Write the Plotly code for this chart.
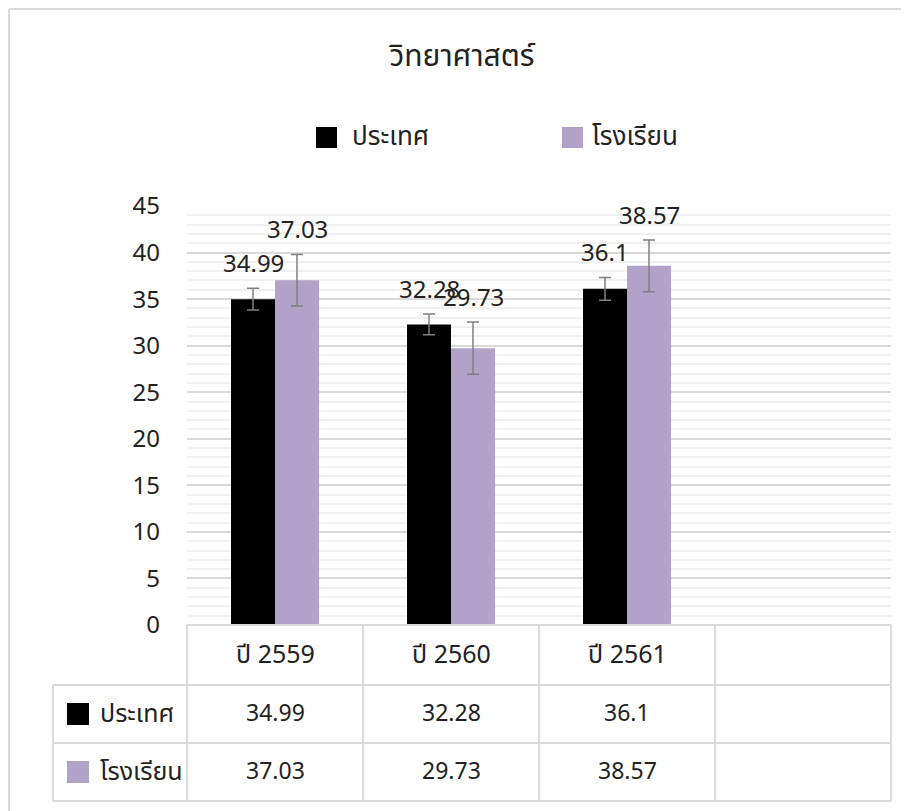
import plotly.graph_objects as go

categories = ["ปี 2559", "ปี 2560", "ปี 2561"]
series_names = ["ประเทศ", "โรงเรียน"]
country_values = [34.99, 32.28, 36.1]
school_values = [37.03, 29.73, 38.57]
country_err = [1.17, 1.11, 1.23]
school_err = [2.77, 2.81, 2.79]
title_text = "วิทยาศาสตร์"

colors = ["#000000", "#b2a2c7"]
FONT = "Noto Sans Thai, Noto Sans, DejaVu Sans, sans-serif"
GRID = "#d9d9d9"
TXT = "#222222"

# page has an 8px body margin: figure is drawn 8px smaller so that it lines up
PAGE_OFF = 8
W, H = 909 - PAGE_OFF, 811 - PAGE_OFF
PL, PR, PT, PB = 187, 891, 206, 625  # plot area in screen px
PW, PH = PR - PL, PB - PT

def pxx(x):
    return (x - PL) / PW

def pyy(y):
    return (PB - y) / PH

xs = list(range(len(categories)))
bargap = 0.5
bar_w = (1 - bargap) / 2

fig = go.Figure()
for name, vals, errs, col in [
    (series_names[0], country_values, country_err, colors[0]),
    (series_names[1], school_values, school_err, colors[1]),
]:
    fig.add_trace(go.Bar(
        x=xs, y=vals, name=name, showlegend=False,
        marker=dict(color=col, line=dict(width=0)),
        error_y=dict(type="data", array=errs, visible=True, color="#808080",
                     thickness=1.5, width=6),
    ))

annotations = []
shapes = []

# data labels above error bars
for k, (vals, errs) in enumerate([(country_values, country_err), (school_values, school_err)]):
    off = (k - 0.5) * bar_w
    for i, (v, e) in enumerate(zip(vals, errs)):
        annotations.append(dict(
            x=i + off, y=v + e, xref="x", yref="y", text=f"{v:g}",
            showarrow=False, yanchor="bottom", yshift=3,
            font=dict(family=FONT, size=24, color=TXT),
        ))

# legend (top)
legend_keys = [(316, 350), (562, 590)]
for k, (sx, tx) in enumerate(legend_keys):
    shapes.append(dict(type="rect", xref="paper", yref="paper", x0=pxx(sx), x1=pxx(sx + 21),
                       y0=pyy(148), y1=pyy(127), fillcolor=colors[k], line=dict(width=0)))
    annotations.append(dict(x=pxx(tx), y=pyy(137), xref="paper", yref="paper", text=series_names[k],
                            showarrow=False, xanchor="left", yanchor="middle",
                            font=dict(family=FONT, size=26, color=TXT)))

# data table
row_lines = [685, 743, 801]
table_left = pxx(53)
line_style = dict(color=GRID, width=2)
shapes.append(dict(type="line", xref="paper", yref="paper", x0=0, x1=1, y0=0, y1=0, line=line_style))
for r in row_lines:
    shapes.append(dict(type="line", xref="paper", yref="paper", x0=table_left, x1=1,
                       y0=pyy(r), y1=pyy(r), line=line_style))
ncols = 4
for c in range(ncols + 1):
    xv = c / ncols
    shapes.append(dict(type="line", xref="paper", yref="paper", x0=xv, x1=xv,
                       y0=0, y1=pyy(row_lines[-1]), line=line_style))
shapes.append(dict(type="line", xref="paper", yref="paper", x0=table_left, x1=table_left,
                   y0=pyy(row_lines[0]), y1=pyy(row_lines[-1]), line=line_style))

for i, c in enumerate(categories):
    annotations.append(dict(x=i, y=pyy(655), xref="x", yref="paper", text=c, showarrow=False,
                            font=dict(family=FONT, size=25, color=TXT), yanchor="middle"))
row_centers = [714, 772]
for k, (name, vals) in enumerate([(series_names[0], country_values), (series_names[1], school_values)]):
    yc = pyy(row_centers[k])
    for i, v in enumerate(vals):
        annotations.append(dict(x=i, y=yc, xref="x", yref="paper", text=f"{v:g}", showarrow=False,
                                font=dict(family=FONT, size=23, color=TXT), yanchor="middle"))
    shapes.append(dict(type="rect", xref="paper", yref="paper", x0=pxx(67), x1=pxx(89),
                       y0=pyy(row_centers[k] + 11), y1=pyy(row_centers[k] - 11),
                       fillcolor=colors[k], line=dict(width=0)))
    annotations.append(dict(x=pxx(98), y=yc, xref="paper", yref="paper", text=name,
                            showarrow=False, xanchor="left", yanchor="middle",
                            font=dict(family=FONT, size=25, color=TXT)))

# outer chart border (left and top)
bx, by = 9, 9
shapes.append(dict(type="line", xref="paper", yref="paper", x0=pxx(bx), x1=pxx(bx),
                   y0=pyy(by), y1=pyy(811), line=line_style))
shapes.append(dict(type="line", xref="paper", yref="paper", x0=pxx(bx), x1=pxx(909),
                   y0=pyy(by), y1=pyy(by), line=line_style))

fig.update_layout(
    width=W, height=H,
    margin=dict(l=PL - PAGE_OFF, r=909 - PR, t=PT - PAGE_OFF, b=811 - PB),
    paper_bgcolor="white", plot_bgcolor="white",
    barmode="group", bargap=bargap, bargroupgap=0,
    showlegend=False,
    title=dict(text=title_text, x=(462 - PAGE_OFF) / W, xanchor="center",
               y=1 - (55 - PAGE_OFF) / H, yanchor="middle", yref="container",
               font=dict(family=FONT, size=30, color=TXT)),
    xaxis=dict(range=[-0.5, 3.5], tickvals=[], showgrid=False, zeroline=False, showline=False,
               fixedrange=True),
    yaxis=dict(range=[0, 45], dtick=5, tick0=0, showgrid=True, gridcolor=GRID, gridwidth=1.5,
               zeroline=False, showline=False, ticks="", ticklabelstandoff=26,
               tickfont=dict(family=FONT, size=24, color=TXT),
               minor=dict(dtick=1, showgrid=True, gridcolor="#f0f0f0", gridwidth=1.5)),
    shapes=shapes, annotations=annotations,
    font=dict(family=FONT),
)

fig.write_html("out.html")
